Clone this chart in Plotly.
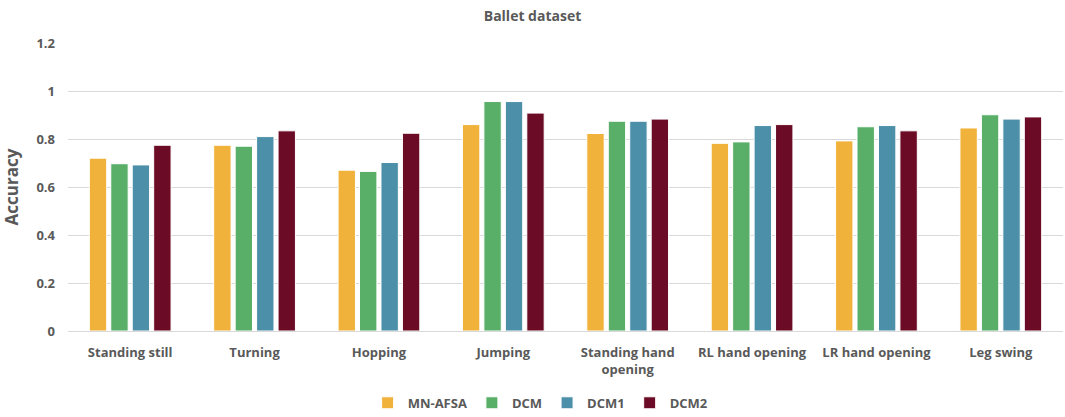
import plotly.graph_objects as go

categories = ["Standing still", "Turning", "Hopping", "Jumping",
              "Standing hand<br>opening", "RL hand opening", "LR hand opening", "Leg swing"]

mn_afsa = [0.720, 0.774, 0.670, 0.860, 0.823, 0.782, 0.792, 0.846]
dcm = [0.697, 0.770, 0.665, 0.956, 0.874, 0.788, 0.851, 0.901]
dcm1 = [0.692, 0.810, 0.702, 0.956, 0.874, 0.856, 0.856, 0.883]
dcm2 = [0.774, 0.834, 0.824, 0.908, 0.883, 0.860, 0.834, 0.892]

series = [
    ("MN-AFSA", mn_afsa, "#F0B23A"),
    ("DCM", dcm, "#59AE68"),
    ("DCM1", dcm1, "#4C8FA8"),
    ("DCM2", dcm2, "#6B0B25"),
]

fig = go.Figure()
for name, vals, color in series:
    fig.add_trace(go.Bar(
        name=name, x=categories, y=vals,
        marker=dict(color=color, line=dict(color="white", width=1)),
    ))

font_family = "Open Sans, Liberation Sans, sans-serif"
grey = "#595959"

fig.update_layout(
    width=1065, height=417,
    margin=dict(l=68, r=2, t=43, b=86, autoexpand=False),
    paper_bgcolor="white", plot_bgcolor="white",
    barmode="group", bargap=0.31, bargroupgap=0.19,
    title=dict(text="<b>Ballet dataset</b>", x=0.5, xanchor="center",
               y=0.962, yanchor="middle",
               font=dict(family=font_family, size=14, color=grey)),
    font=dict(family=font_family, color=grey),
    legend=dict(orientation="h", x=0.475, xanchor="center",
                yref="container", y=0.034, yanchor="middle",
                font=dict(size=13, color=grey, weight="bold"),
                itemwidth=30, traceorder="normal"),
    showlegend=True,
)

fig.update_yaxes(
    range=[0, 1.2], dtick=0.2, tickformat="~g",
    showgrid=True, gridcolor="#D9D9D9", gridwidth=1,
    zeroline=True, zerolinecolor="#D9D9D9", zerolinewidth=1,
    showline=False, ticks="", ticklabelstandoff=12,
    tickfont=dict(size=13, color=grey, weight="bold"),
    title=dict(text="<b>Accuracy</b>", font=dict(size=17, color=grey), standoff=14),
)
fig.update_xaxes(
    showgrid=False, showline=False, ticks="", ticklabelstandoff=12,
    tickfont=dict(size=13, color=grey, weight="bold"),
    tickangle=0,
)

fig.write_html("out.html")
